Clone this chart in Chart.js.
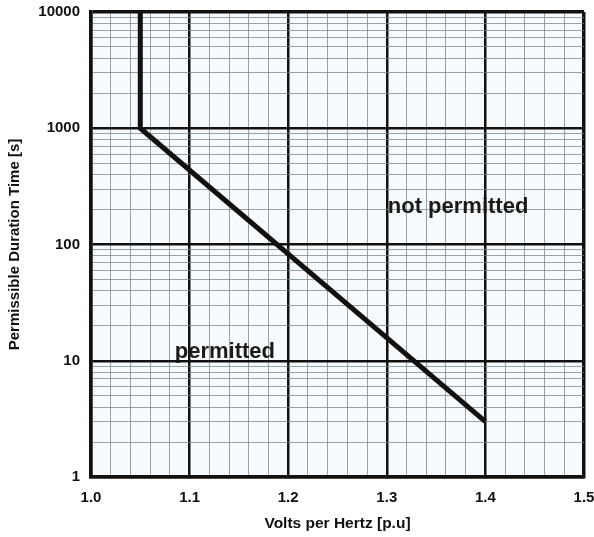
<!DOCTYPE html>
<html>
<head>
<meta charset="utf-8">
<script src="https://cdn.jsdelivr.net/npm/chart.js@4/dist/chart.umd.min.js"></script>
<style>
  html, body { margin: 0; padding: 0; background: #fff; }
  #wrap { width: 594px; height: 537px; }
</style>
</head>
<body>
<div id="wrap"><canvas id="vhzChart"></canvas></div>
<script>
// V/Hz limit curve: vertical at 1.05 p.u., then straight (log) fall to 1.4 p.u.
const voltsPerHertz = [1.05, 1.05, 1.4];
const durationSec = [10000, 1000, 3];

const xTickLabels = ['1.0', '1.1', '1.2', '1.3', '1.4', '1.5'];
const yTickLabels = ['1', '10', '100', '1000', '10000'];

const regionTexts = ['not permitted', 'permitted'];
const regionAt = [
    { x: 1.301, y: 187 },
    { x: 1.085, y: 10.6 }
];

const INK = '#111';
const MINOR = 'rgba(120,132,138,0.75)';
const FONT = '"Liberation Sans", Arial, sans-serif';

function isMajorX(v) { return Math.round(v * 100) % 10 === 0; }
function isMajorY(v) { return Math.abs(Math.log10(v) - Math.round(Math.log10(v))) < 1e-6; }

// plot area tint
const plotBg = {
    id: 'plotBg',
    beforeDraw(chart) {
        const { ctx, chartArea: a } = chart;
        ctx.save();
        ctx.fillStyle = '#f7fafc';
        ctx.fillRect(a.left, a.top, a.right - a.left, a.bottom - a.top);
        ctx.restore();
    }
};

// "permitted" / "not permitted" captions
const regionLabels = {
    id: 'regionLabels',
    afterDatasetsDraw(chart) {
        const { ctx, scales } = chart;
        ctx.save();
        ctx.font = 'bold 22px ' + FONT;
        ctx.fillStyle = '#1a1a1a';
        ctx.textAlign = 'left';
        ctx.textBaseline = 'alphabetic';
        regionTexts.forEach((t, i) => {
            ctx.fillText(t, scales.x.getPixelForValue(regionAt[i].x), scales.y.getPixelForValue(regionAt[i].y));
        });
        ctx.restore();
    }
};

const ctx = document.getElementById('vhzChart').getContext('2d');
new Chart(ctx, {
    type: 'scatter',
    data: {
        datasets: [{
            data: voltsPerHertz.map((v, i) => ({ x: v, y: durationSec[i] })),
            showLine: true,
            borderColor: INK,
            borderWidth: 5,
            pointRadius: 0,
            borderCapStyle: 'butt',
            borderJoinStyle: 'miter'
        }]
    },
    options: {
        responsive: true,
        maintainAspectRatio: false,
        animation: false,
        layout: { padding: { top: 12, right: 10, left: 0, bottom: 0 } },
        plugins: {
            legend: { display: false },
            tooltip: { enabled: false }
        },
        scales: {
            x: {
                type: 'linear',
                min: 1.0,
                max: 1.5,
                afterBuildTicks(scale) {
                    const t = [];
                    for (let i = 0; i <= 25; i++) t.push({ value: 1 + i * 0.02 });
                    scale.ticks = t;
                },
                afterFit(scale) {
                    scale.height = 60;
                    scale.paddingLeft = 0;
                    scale.paddingRight = 0;
                },
                ticks: {
                    autoSkip: false,
                    maxRotation: 0,
                    padding: 12,
                    color: INK,
                    font: { family: FONT, size: 15, weight: 'bold' },
                    callback(v) {
                        if (!isMajorX(v)) return '';
                        return xTickLabels[Math.round((v - 1) * 10)];
                    }
                },
                grid: {
                    drawTicks: false,
                    color: c => isMajorX(c.tick.value) ? INK : MINOR,
                    lineWidth: c => {
                        const v = c.tick.value;
                        if (Math.abs(v - 1.5) < 1e-6) return 3.5;
                        return isMajorX(v) ? 2.5 : 1;
                    }
                },
                border: { display: true, color: INK, width: 3.5 },
                title: {
                    display: true,
                    text: 'Volts per Hertz [p.u]',
                    color: INK,
                    padding: { top: 12 },
                    font: { family: FONT, size: 15.5, weight: 'bold' }
                }
            },
            y: {
                type: 'logarithmic',
                min: 1,
                max: 10000,
                afterBuildTicks(scale) {
                    const t = [];
                    for (let d = 1; d < 10000; d *= 10) {
                        for (let m = 1; m < 10; m++) t.push({ value: m * d });
                    }
                    t.push({ value: 10000 });
                    scale.ticks = t;
                },
                afterFit(scale) {
                    scale.width = 91;
                    scale.paddingTop = 0;
                    scale.paddingBottom = 0;
                },
                ticks: {
                    autoSkip: false,
                    padding: 11,
                    color: INK,
                    font: { family: FONT, size: 15, weight: 'bold' },
                    callback(v) {
                        if (!isMajorY(v)) return '';
                        return yTickLabels[Math.round(Math.log10(v))];
                    }
                },
                grid: {
                    drawTicks: false,
                    color: c => isMajorY(c.tick.value) ? INK : MINOR,
                    lineWidth: c => {
                        const v = c.tick.value;
                        if (v === 10000) return 3.5;
                        return isMajorY(v) ? 2.5 : 1;
                    }
                },
                border: { display: true, color: INK, width: 3.5 },
                title: {
                    display: true,
                    text: 'Permissible Duration Time [s]',
                    color: INK,
                    padding: { top: 6, bottom: 0 },
                    font: { family: FONT, size: 15, weight: 'bold' }
                }
            }
        }
    },
    plugins: [plotBg, regionLabels]
});
</script>
</body>
</html>
